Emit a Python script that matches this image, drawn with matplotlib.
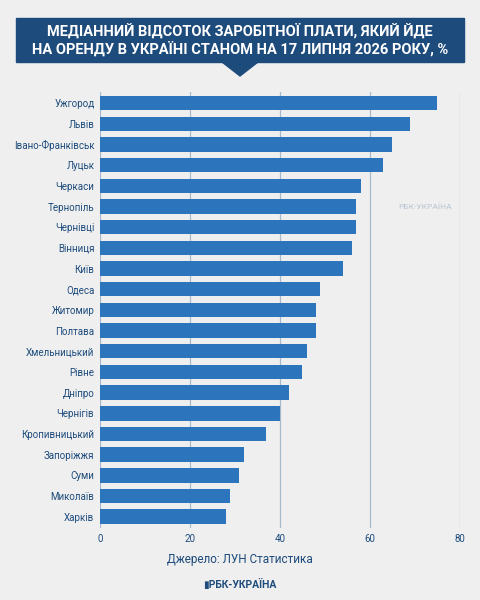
import matplotlib
matplotlib.use("Agg")
import matplotlib.pyplot as plt
from matplotlib.patches import Polygon, Rectangle

cities = ["Ужгород","Львів","Івано-Франківськ","Луцьк","Черкаси","Тернопіль","Чернівці","Вінниця","Київ","Одеса","Житомир","Полтава","Хмельницький","Рівне","Дніпро","Чернігів","Кропивницький","Запоріжжя","Суми","Миколаїв","Харків"]
values = [75,69,65,63,58,57,57,56,54,49,48,48,46,45,42,40,37,32,31,29,28]
ticks = [0,20,40,60,80]

plt.rcParams['font.family'] = ['Roboto', 'DejaVu Sans']
navy = "#1d4b7c"
fig = plt.figure(figsize=(4.8,6.0), dpi=100, facecolor="#efefef")
ax = fig.add_axes([0.208, 0.12, 0.75, 0.727])
ax.set_facecolor("none")
y = list(range(len(cities)))
ax.barh(y, values, height=0.7, color="#2c74bb", zorder=3)
ax.set_ylim(len(cities)-0.45, -0.55)
ax.set_xlim(0, 80)
ax.set_xticks(ticks)
ax.set_yticks(y)
ax.set_yticklabels(cities, fontsize=7, color=navy)
ax.tick_params(axis='x', labelsize=7, colors=navy, length=0, pad=4)
ax.tick_params(axis='y', length=0, pad=4)
ax.grid(axis='x', color="#a9b9cc", lw=0.9, zorder=0)
for s in ax.spines.values():
    s.set_visible(False)

fig.patches.append(Rectangle((16/480, 1-62/600), 448/480, 44/600, transform=fig.transFigure, color=navy, zorder=0))
fig.patches.append(Polygon([(222/480, 1-62/600), (258/480, 1-62/600), (240/480, 1-76/600)], transform=fig.transFigure, color=navy, zorder=0))
fig.text(0.5, 1-40/600, "МЕДІАННИЙ ВІДСОТОК ЗАРОБІТНОЇ ПЛАТИ, ЯКИЙ ЙДЕ\nНА ОРЕНДУ В УКРАЇНІ СТАНОМ НА 17 ЛИПНЯ 2026 РОКУ, %",
         ha='center', va='center', color='white', fontsize=10.5, fontweight='bold', linespacing=1.25)
fig.text(0.5, 1-560/600, "Джерело: ЛУН Статистика", ha='center', va='center', color=navy, fontsize=8.5)
fig.text(0.5, 1-584/600, "▮РБК-УКРАЇНА", ha='center', va='center', color=navy, fontsize=7.5, fontweight='bold')
fig.text(0.885, 1-207/600, "РБК-УКРАЇНА", ha='center', va='center', color="#b8c4d2", fontsize=6)
fig.savefig("out.png", dpi=100, facecolor=fig.get_facecolor())
